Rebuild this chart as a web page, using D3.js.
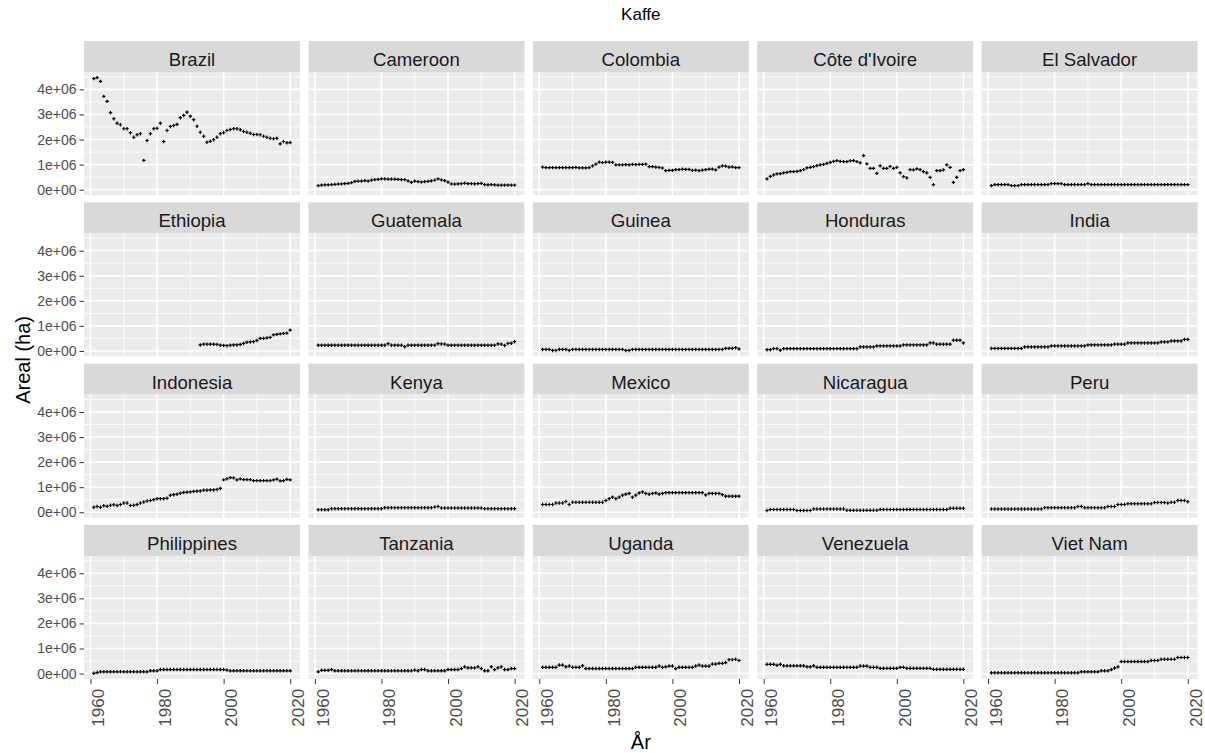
<!DOCTYPE html>
<html>
<head>
<meta charset="utf-8">
<script src="https://cdn.jsdelivr.net/npm/d3@7"></script>
<style>
  body { margin: 0; background: #fff; }
  svg { font-family: "Liberation Sans", Arial, sans-serif; }
</style>
</head>
<body>
<div id="container"></div>
<script>
/* DATA */
const years = [1961, 1962, 1963, 1964, 1965, 1966, 1967, 1968, 1969, 1970,
  1971, 1972, 1973, 1974, 1975, 1976, 1977, 1978, 1979, 1980,
  1981, 1982, 1983, 1984, 1985, 1986, 1987, 1988, 1989, 1990,
  1991, 1992, 1993, 1994, 1995, 1996, 1997, 1998, 1999, 2000,
  2001, 2002, 2003, 2004, 2005, 2006, 2007, 2008, 2009, 2010,
  2011, 2012, 2013, 2014, 2015, 2016, 2017, 2018, 2019, 2020]

const countries = ["Brazil", "Cameroon", "Colombia", "Côte d'Ivoire", "El Salvador",
  "Ethiopia", "Guatemala", "Guinea", "Honduras", "India",
  "Indonesia", "Kenya", "Mexico", "Nicaragua", "Peru",
  "Philippines", "Tanzania", "Uganda", "Venezuela", "Viet Nam"]

// harvested area, thousand ha
const brazil = [4430, 4470, 4320, 3720, 3520, 3070, 2830, 2650, 2590, 2430,
  2430, 2270, 2090, 2190, 2230, 1170, 1960, 2230, 2430, 2450,
  2650, 1920, 2360, 2520, 2560, 2600, 2870, 2960, 3090, 2930,
  2790, 2530, 2290, 2130, 1890, 1930, 1990, 2090, 2230, 2270,
  2360, 2400, 2430, 2430, 2390, 2320, 2290, 2250, 2200, 2200,
  2190, 2130, 2090, 2050, 2030, 2050, 1830, 1920, 1870, 1880]
const cameroon = [160, 180, 190, 190, 200, 210, 220, 230, 240, 250,
  280, 330, 340, 340, 360, 340, 380, 400, 410, 430,
  430, 420, 420, 420, 410, 400, 400, 350, 290, 340,
  320, 300, 320, 330, 350, 380, 430, 390, 360, 300,
  230, 220, 230, 240, 260, 240, 240, 230, 240, 250,
  200, 190, 200, 190, 180, 180, 180, 180, 180, 180]
const colombia = [900, 880, 880, 880, 880, 880, 880, 880, 880, 880,
  890, 870, 870, 870, 880, 950, 1020, 1100, 1080, 1100,
  1100, 1090, 990, 990, 990, 1000, 990, 1010, 1000, 1010,
  1010, 1020, 920, 920, 900, 890, 860, 760, 770, 770,
  800, 800, 820, 810, 810, 770, 780, 760, 780, 800,
  820, 820, 790, 900, 950, 940, 900, 910, 880, 880]
const coteDIvoire = [430, 530, 590, 630, 640, 670, 690, 720, 720, 730,
  760, 800, 870, 890, 920, 960, 990, 1010, 1050, 1090,
  1130, 1160, 1130, 1120, 1120, 1150, 1160, 1120, 1070, 1360,
  1030, 850, 850, 650, 950, 850, 850, 930, 850, 890,
  670, 520, 470, 800, 790, 830, 800, 720, 670, 490,
  200, 760, 760, 790, 990, 890, 290, 490, 760, 800]
const elSalvador = [160, 200, 200, 200, 200, 200, 160, 160, 160, 200,
  200, 200, 200, 200, 200, 200, 200, 200, 240, 240,
  240, 240, 200, 200, 200, 200, 200, 200, 200, 240,
  200, 200, 200, 200, 200, 200, 200, 200, 200, 200,
  200, 200, 200, 200, 200, 200, 200, 200, 200, 200,
  200, 200, 200, 200, 200, 200, 200, 200, 200, 200]
const ethiopia = [null, null, null, null, null, null, null, null, null, null,
  null, null, null, null, null, null, null, null, null, null,
  null, null, null, null, null, null, null, null, null, null,
  null, null, 240, 270, 270, 270, 270, 260, 230, 220,
  210, 230, 240, 240, 260, 300, 350, 360, 370, 420,
  500, 500, 520, 540, 640, 660, 680, 700, 710, 830]
const guatemala = [230, 230, 230, 230, 230, 230, 230, 230, 230, 230,
  230, 230, 230, 230, 230, 230, 230, 230, 230, 230,
  230, 290, 230, 230, 230, 230, 170, 230, 230, 230,
  230, 230, 230, 230, 230, 230, 290, 280, 270, 230,
  230, 230, 230, 230, 230, 230, 230, 230, 230, 230,
  230, 230, 230, 230, 280, 270, 220, 300, 310, 370]
const guinea = [60, 60, 60, 20, 20, 60, 60, 60, 20, 60,
  60, 60, 60, 60, 60, 60, 60, 60, 60, 60,
  60, 60, 60, 60, 60, 20, 20, 60, 60, 60,
  60, 60, 60, 60, 60, 60, 60, 60, 60, 60,
  60, 60, 60, 60, 60, 60, 60, 60, 60, 60,
  60, 60, 60, 60, 60, 100, 100, 100, 130, 80]
const honduras = [50, 50, 90, 90, 30, 90, 90, 90, 90, 90,
  90, 90, 90, 90, 90, 90, 90, 90, 90, 90,
  90, 90, 90, 90, 90, 90, 90, 90, 160, 160,
  160, 160, 160, 200, 200, 200, 200, 200, 200, 200,
  200, 240, 240, 240, 240, 240, 240, 240, 240, 320,
  320, 270, 270, 270, 270, 270, 430, 430, 430, 320]
const india = [100, 100, 100, 100, 100, 100, 100, 100, 100, 100,
  160, 160, 160, 160, 160, 160, 160, 160, 200, 200,
  200, 200, 200, 200, 200, 200, 200, 200, 200, 240,
  240, 240, 240, 240, 240, 240, 240, 270, 270, 270,
  270, 320, 320, 320, 320, 320, 320, 320, 320, 320,
  320, 360, 360, 360, 400, 400, 400, 400, 460, 460]
const indonesia = [200, 230, 200, 260, 240, 280, 300, 270, 310, 370,
  370, 270, 280, 310, 370, 410, 450, 470, 500, 540,
  540, 540, 560, 680, 700, 720, 760, 790, 800, 810,
  830, 840, 850, 880, 880, 890, 890, 910, 950, 1290,
  1330, 1380, 1370, 1290, 1330, 1300, 1300, 1300, 1260, 1260,
  1260, 1260, 1260, 1260, 1290, 1320, 1250, 1260, 1310, 1290]
const kenya = [100, 100, 100, 100, 140, 140, 140, 140, 140, 140,
  140, 140, 140, 140, 140, 140, 140, 140, 140, 140,
  180, 180, 180, 180, 180, 180, 180, 180, 180, 180,
  180, 180, 180, 180, 180, 210, 230, 170, 170, 170,
  170, 170, 170, 170, 170, 170, 170, 170, 170, 170,
  140, 140, 140, 140, 140, 140, 140, 140, 140, 140]
const mexico = [310, 310, 310, 310, 370, 370, 370, 430, 310, 400,
  400, 400, 400, 400, 400, 400, 400, 400, 400, 470,
  540, 600, 540, 600, 680, 720, 750, 600, 680, 770,
  810, 750, 720, 750, 770, 720, 750, 780, 780, 780,
  780, 780, 780, 780, 780, 780, 780, 780, 780, 690,
  750, 750, 750, 750, 700, 640, 640, 640, 640, 640]
const nicaragua = [70, 110, 110, 110, 110, 110, 110, 110, 110, 70,
  70, 70, 70, 70, 130, 130, 130, 130, 130, 130,
  130, 130, 130, 130, 80, 80, 80, 80, 80, 80,
  80, 80, 80, 80, 110, 110, 110, 110, 110, 110,
  110, 110, 110, 110, 110, 110, 110, 110, 110, 110,
  110, 110, 110, 110, 110, 160, 160, 160, 160, 160]
const peru = [130, 130, 130, 130, 130, 130, 130, 130, 130, 130,
  130, 130, 130, 130, 130, 130, 180, 180, 180, 180,
  180, 180, 180, 180, 180, 180, 230, 230, 180, 180,
  180, 180, 180, 180, 180, 230, 230, 230, 310, 310,
  310, 340, 340, 340, 340, 340, 340, 340, 340, 390,
  390, 390, 390, 370, 400, 400, 470, 470, 470, 420]
const philippines = [10, 40, 70, 70, 70, 70, 70, 70, 70, 70,
  70, 70, 70, 70, 70, 70, 70, 110, 110, 110,
  160, 160, 160, 160, 160, 160, 160, 160, 160, 160,
  160, 160, 160, 160, 160, 160, 160, 160, 160, 160,
  140, 110, 110, 110, 110, 110, 110, 110, 110, 110,
  110, 110, 110, 110, 110, 110, 110, 110, 110, 110]
const tanzania = [70, 130, 130, 130, 160, 110, 110, 110, 110, 110,
  110, 110, 110, 110, 110, 110, 110, 110, 110, 110,
  110, 110, 110, 110, 110, 110, 110, 110, 110, 140,
  110, 160, 160, 110, 110, 110, 110, 110, 110, 160,
  160, 160, 160, 200, 270, 230, 230, 230, 270, 200,
  110, 110, 270, 160, 230, 270, 160, 160, 200, 200]
const uganda = [250, 250, 250, 250, 250, 340, 340, 270, 300, 250,
  250, 250, 310, 200, 200, 200, 200, 200, 200, 200,
  200, 200, 200, 200, 200, 200, 200, 200, 250, 250,
  250, 250, 250, 250, 250, 300, 250, 270, 300, 300,
  200, 250, 250, 250, 250, 250, 300, 340, 300, 300,
  300, 380, 380, 410, 410, 440, 550, 550, 570, 520]
const venezuela = [370, 370, 370, 330, 370, 310, 310, 310, 310, 310,
  310, 310, 270, 270, 310, 250, 250, 250, 250, 250,
  250, 250, 250, 250, 250, 250, 250, 250, 300, 300,
  300, 250, 250, 250, 210, 210, 210, 210, 210, 210,
  250, 250, 210, 210, 210, 210, 210, 210, 210, 210,
  170, 170, 170, 170, 170, 170, 170, 170, 170, 170]
const vietNam = [30, 30, 30, 30, 30, 30, 30, 30, 30, 30,
  30, 30, 30, 30, 30, 30, 30, 30, 30, 30,
  30, 30, 30, 30, 30, 30, 30, 70, 70, 70,
  70, 70, 70, 110, 110, 110, 160, 220, 270, 480,
  480, 480, 480, 480, 480, 480, 480, 480, 520, 520,
  520, 570, 570, 570, 570, 570, 640, 640, 640, 640]

const yTicks = [0, 1e6, 2e6, 3e6, 4e6]
const yMinorTicks = [0.5e6, 1.5e6, 2.5e6, 3.5e6, 4.5e6]
const xTicks = [1960, 1980, 2000, 2020]
const xMinorTicks = [1970, 1990, 2010]

const seriesList = [brazil, cameroon, colombia, coteDIvoire, elSalvador,
  ethiopia, guatemala, guinea, honduras, india,
  indonesia, kenya, mexico, nicaragua, peru,
  philippines, tanzania, uganda, venezuela, vietNam]

/* CONSTANTS AND GLOBALS */
const width = 1205,
  height = 753,
  ncol = 5,
  panel = { left: 84, top: 41, w: 216, stripH: 31, plotH: 123, colStep: 224.4, rowStep: 161.3 }

// ggplot-style 5% expansion of a continuous range
const expand = ([lo, hi]) => [lo - (hi - lo) * 0.05, hi + (hi - lo) * 0.05]

// 4e+06 style labels
const formatSci = v => {
  const [m, e] = d3.format(".0e")(v).split("e")
  return m + "e" + e[0] + e.slice(1).padStart(2, "0")
}

const data = countries.map((c, i) => ({
  country: c,
  values: years.map((yr, j) => ({ year: yr, area: seriesList[i][j] == null ? null : seriesList[i][j] * 1000 }))
    .filter(d => d.area != null)
}))

/* SCALES */
const xScale = d3.scaleLinear()
  .domain(expand(d3.extent(years)))
  .range([0, panel.w])

const yScale = d3.scaleLinear()
  .domain(expand(d3.extent(data.flatMap(d => d.values), d => d.area)))
  .range([panel.plotH, 0])

/* SVG */
const svg = d3.select("#container")
  .append("svg")
  .attr("width", width)
  .attr("height", height)

svg.append("rect")
  .attr("width", width)
  .attr("height", height)
  .attr("fill", "#fff")

const facets = svg.selectAll(".facet")
  .data(data)
  .join("g")
  .attr("class", "facet")
  .attr("transform", (d, i) => `translate(${panel.left + (i % ncol) * panel.colStep}, ${panel.top + Math.floor(i / ncol) * panel.rowStep})`)

// STRIPS
facets.append("rect")
  .attr("width", panel.w)
  .attr("height", panel.stripH)
  .attr("fill", "#d9d9d9")

facets.append("text")
  .attr("x", panel.w / 2)
  .attr("y", 25)
  .attr("text-anchor", "middle")
  .attr("font-size", 18.6)
  .attr("fill", "#1a1a1a")
  .text(d => d.country)

// PANELS
const plots = facets.append("g")
  .attr("transform", `translate(0, ${panel.stripH})`)

plots.append("rect")
  .attr("width", panel.w)
  .attr("height", panel.plotH)
  .attr("fill", "#ebebeb")

plots.each(function () {
  const g = d3.select(this)
  g.selectAll(".ygrid-minor")
    .data(yMinorTicks.filter(v => yScale(v) >= 0))
    .join("line")
    .attr("x1", 0).attr("x2", panel.w)
    .attr("y1", d => yScale(d)).attr("y2", d => yScale(d))
    .attr("stroke", "#fff").attr("stroke-width", 0.8)
  g.selectAll(".xgrid-minor")
    .data(xMinorTicks)
    .join("line")
    .attr("y1", 0).attr("y2", panel.plotH)
    .attr("x1", d => xScale(d)).attr("x2", d => xScale(d))
    .attr("stroke", "#fff").attr("stroke-width", 0.8)
  g.selectAll(".ygrid")
    .data(yTicks)
    .join("line")
    .attr("x1", 0).attr("x2", panel.w)
    .attr("y1", d => yScale(d)).attr("y2", d => yScale(d))
    .attr("stroke", "#fff").attr("stroke-width", 1.6)
  g.selectAll(".xgrid")
    .data(xTicks)
    .join("line")
    .attr("y1", 0).attr("y2", panel.plotH)
    .attr("x1", d => xScale(d)).attr("x2", d => xScale(d))
    .attr("stroke", "#fff").attr("stroke-width", 1.6)
})

// POINTS (shape = "+")
plots.selectAll(".pt")
  .data(d => d.values)
  .join("path")
  .attr("class", "pt")
  .attr("transform", d => `translate(${xScale(d.year)}, ${yScale(d.area)})`)
  .attr("d", "M-1.7,0H1.7M0,-1.7V1.7")
  .attr("stroke", "#000")
  .attr("stroke-width", 1.2)
  .attr("fill", "none")

// AXES
const yAxis = d3.axisLeft(yScale)
  .tickValues(yTicks)
  .tickFormat(formatSci)
  .tickSize(4.5)
  .tickPadding(3)

plots.filter((d, i) => i % ncol === 0)
  .append("g")
  .call(yAxis)
  .call(g => g.select(".domain").remove())
  .call(g => g.selectAll("line").attr("stroke", "#333"))
  .call(g => g.selectAll("text").attr("font-size", 14).attr("fill", "#4d4d4d").attr("font-family", null))

const xAxis = d3.axisBottom(xScale)
  .tickValues(xTicks)
  .tickFormat(d3.format("d"))
  .tickSize(5)

plots.filter((d, i) => i >= data.length - ncol)
  .append("g")
  .attr("transform", `translate(0, ${panel.plotH})`)
  .call(xAxis)
  .call(g => g.select(".domain").remove())
  .call(g => g.selectAll("line").attr("stroke", "#333"))
  .call(g => g.selectAll("text")
    .attr("transform", "rotate(-90)")
    .attr("text-anchor", "end")
    .attr("x", -10)
    .attr("y", 1)
    .attr("dy", "0.72em")
    .attr("font-size", 17)
    .attr("fill", "#4d4d4d")
    .attr("font-family", null))

// TITLES
const midX = panel.left + ((ncol - 1) * panel.colStep + panel.w) / 2

svg.append("text")
  .attr("x", midX)
  .attr("y", 20)
  .attr("text-anchor", "middle")
  .attr("font-size", 17)
  .text("Kaffe")

svg.append("text")
  .attr("x", midX)
  .attr("y", 749)
  .attr("text-anchor", "middle")
  .attr("font-size", 20)
  .text("År")

svg.append("text")
  .attr("transform", `translate(30, ${panel.top + (3 * panel.rowStep + panel.stripH + panel.plotH) / 2}) rotate(-90)`)
  .attr("text-anchor", "middle")
  .attr("font-size", 20)
  .text("Areal (ha)")
</script>
</body>
</html>
